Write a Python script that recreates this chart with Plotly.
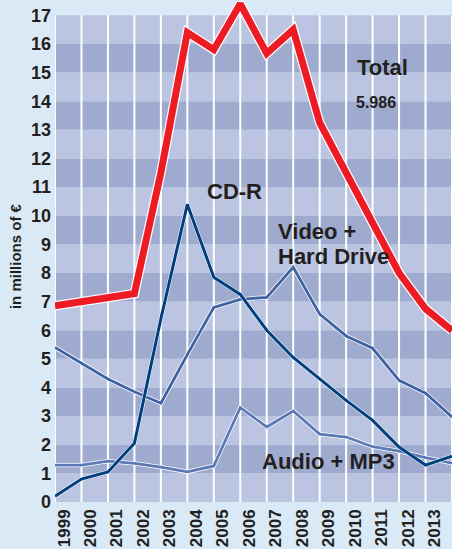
import plotly.graph_objects as go

# ---- data ----
years = list(range(1999, 2015))
tick_years = list(range(1999, 2014))
tick_labels = [str(y) for y in tick_years]
total = [6.85, 7.0, 7.12, 7.28, 11.5, 16.4, 15.8, 17.4, 15.67, 16.5, 13.25, 11.5, 9.8, 8.0, 6.75, 5.986]
cd_r = [0.2, 0.8, 1.05, 2.05, 6.4, 10.4, 7.85, 7.25, 6.0, 5.05, 4.3, 3.55, 2.85, 1.92, 1.29, 1.6]
video_hd = [5.4, 4.85, 4.3, 3.85, 3.45, 5.15, 6.8, 7.08, 7.15, 8.2, 6.56, 5.8, 5.37, 4.25, 3.8, 2.97]
audio_mp3 = [1.29, 1.29, 1.43, 1.35, 1.22, 1.05, 1.26, 3.3, 2.62, 3.18, 2.37, 2.27, 1.93, 1.78, 1.55, 1.36]
y_ticks = list(range(0, 18))

FONT = "Liberation Sans, Arial, Helvetica, sans-serif"
DARK = "#231f20"
BG = "#dae9f6"
LIGHT_BAND = "#bbc4e0"
DARK_BAND = "#9eabcf"

fig = go.Figure()

def add_line(y, color, width, outline):
    fig.add_trace(go.Scatter(x=years, y=y, mode="lines",
                             line=dict(color="white", width=width + outline),
                             hoverinfo="skip", showlegend=False))
    fig.add_trace(go.Scatter(x=years, y=y, mode="lines",
                             line=dict(color=color, width=width),
                             hoverinfo="skip", showlegend=False))

add_line(audio_mp3, "#5b79b5", 2.8, 1.5)
add_line(video_hd, "#3e62a2", 2.8, 1.5)
add_line(cd_r, "#003f7d", 3, 1)
add_line(total, "#ed1c24", 7, 2.5)

shapes = []
x0, x1 = years[0], years[-1]
for n in y_ticks[:-1]:
    shapes.append(dict(type="rect", xref="x", yref="y", x0=x0, x1=x1, y0=n, y1=n + 1,
                       fillcolor=LIGHT_BAND if n % 2 == 0 else DARK_BAND,
                       line=dict(width=0), layer="below"))
for yr in years:
    shapes.append(dict(type="line", xref="x", yref="y", x0=yr, x1=yr, y0=0, y1=y_ticks[-1],
                       line=dict(color="white", width=2), layer="below"))

def lab(text, x, y, size):
    return dict(text=text, x=x, y=y, xref="x", yref="y", xanchor="left", yanchor="middle",
                showarrow=False, font=dict(family=FONT, size=size, color=DARK, weight="bold"))

annotations = [
    lab("Total", 2010.33, 15.19, 22),
    lab("5.986", 2010.3, 13.94, 16),
    lab("CD-R", 2004.67, 10.83, 22),
    lab("Video +", 2007.35, 9.45, 22),
    lab("Hard Drive", 2007.35, 8.59, 22),
    lab("Audio + MP3", 2006.74, 1.41, 22),
    dict(text="in millions of €", xref="paper", yref="y", x=-0.1, y=8.6,
         xanchor="center", yanchor="middle", textangle=-90, showarrow=False,
         font=dict(family=FONT, size=15, color=DARK, weight="bold")),
]

fig.update_layout(
    width=452, height=549,
    margin=dict(l=55, r=0, t=1, b=47),
    paper_bgcolor=BG, plot_bgcolor=BG,
    shapes=shapes, annotations=annotations,
    showlegend=False, hovermode=False,
    xaxis=dict(range=[x0, x1], tickvals=tick_years, ticktext=tick_labels,
               tickangle=-90, ticks="", showgrid=False, zeroline=False, showline=False,
               ticklabelshift=9, ticklabelstandoff=3, automargin=False,
               tickfont=dict(family=FONT, size=17, color=DARK, weight="bold")),
    yaxis=dict(range=[0, 17.5], tickvals=y_ticks, ticks="", showgrid=False,
               zeroline=False, showline=False, ticklabelstandoff=3, automargin=False,
               tickfont=dict(family=FONT, size=18, color=DARK, weight="bold")),
)

fig.write_html("out.html", config={"displayModeBar": False},
               post_script="document.body.style.margin='0';document.body.style.overflow='hidden';")
